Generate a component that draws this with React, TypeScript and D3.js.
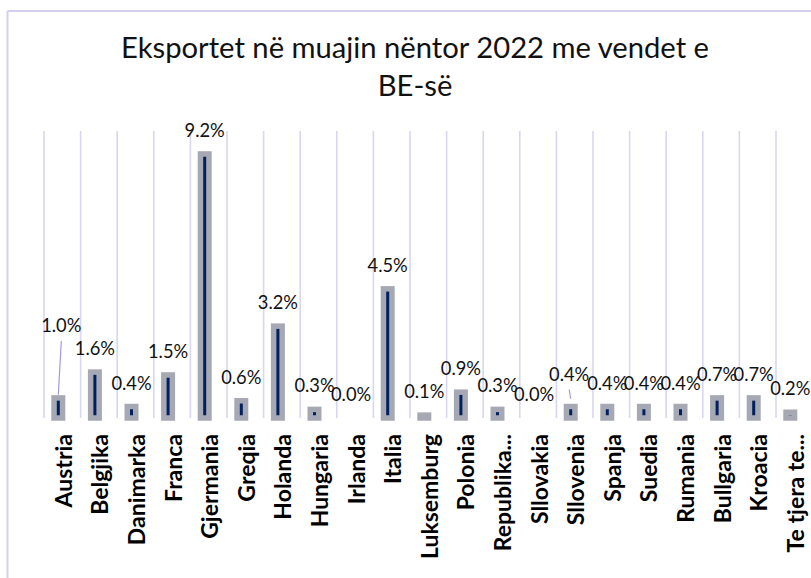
import React from "react";
import * as d3 from "d3";

const categories = [
  "Austria", "Belgjika", "Danimarka", "Franca", "Gjermania", "Greqia", "Holanda",
  "Hungaria", "Irlanda", "Italia", "Luksemburg", "Polonia", "Republika...",
  "Sllovakia", "Sllovenia", "Spanja", "Suedia", "Rumania", "Bullgaria", "Kroacia",
  "Te tjera te...",
];
// bar heights (percent)
const values = [0.7, 1.6, 0.4, 1.5, 9.2, 0.6, 3.2, 0.3, 0.0, 4.5, 0.1, 0.9, 0.3, 0.0, 0.4, 0.4, 0.4, 0.4, 0.7, 0.7, 0.2];
// data label texts as printed on the chart
const dataLabels = ["1.0%", "1.6%", "0.4%", "1.5%", "9.2%", "0.6%", "3.2%", "0.3%", "0.0%", "4.5%", "0.1%", "0.9%", "0.3%", "0.0%", "0.4%", "0.4%", "0.4%", "0.4%", "0.7%", "0.7%", "0.2%"];
const titleLines = ["Eksportet në muajin nëntor 2022 me vendet e", "BE-së"];
const yDomain = [0, 10];

// labels that were dragged away from their bars (with leader lines)
const movedLabels: Record<string, { dx: number; dy: number; endGap: number }> = {
  Austria: { dx: 3, dy: -48.5, endGap: 0.5 },
  Sllovenia: { dx: -1.5, dy: -8.3, endGap: 5 },
};

const W = 811;
const H = 578;
const plotLeft = 44;
const bandStep = 36.6;
const plotTop = 131;
const plotBottom = 418;
const barOffset = -4;
const barInner = 8.5;
const barStroke = 5.5;

export default function App() {
  const x = d3
    .scaleBand<string>()
    .domain(categories)
    .range([plotLeft, plotLeft + bandStep * categories.length])
    .paddingInner(0)
    .paddingOuter(0);
  const y = d3.scaleLinear().domain(yDomain).range([plotBottom, plotTop]);
  const bw = x.bandwidth();
  const gridXs = d3.range(categories.length + 1).map((i) => plotLeft + i * bw);

  const font = "Lato, 'Open Sans', sans-serif";

  return (
    <svg
      width={W}
      height={H}
      style={{ position: "absolute", left: 0, top: 0, display: "block", background: "#fff" }}
    >
      <rect x={0} y={0} width={W} height={H} fill="#ffffff" />
      {/* chart border */}
      <line x1={7.5} y1={11} x2={W + 5} y2={11} stroke="#d3d1ee" strokeWidth={2} />
      <line x1={7.5} y1={11} x2={7.5} y2={H + 5} stroke="#d3d1ee" strokeWidth={2} />

      {/* title */}
      {titleLines.map((t, i) => (
        <text
          key={i}
          x={415}
          y={58 + i * 38}
          textAnchor="middle"
          fontFamily={font}
          fontSize={29.2}
          fill="#111"
        >
          {t}
        </text>
      ))}

      {/* vertical gridlines */}
      {gridXs.map((gx, i) => (
        <line key={i} x1={gx} x2={gx} y1={plotTop} y2={plotBottom} stroke="#d8d6f1" strokeWidth={1.6} />
      ))}

      {/* bars */}
      {categories.map((c, i) => {
        const cx = (x(c) as number) + bw / 2 + barOffset;
        const top = y(values[i]);
        const h = y(0) - top;
        if (h <= 0) return null;
        return (
          <rect
            key={c}
            x={cx - barInner / 2}
            y={top}
            width={barInner}
            height={h}
            fill="#002060"
            stroke="#a6a9b3"
            strokeWidth={barStroke}
          />
        );
      })}

      {/* data labels */}
      {categories.map((c, i) => {
        const cx = (x(c) as number) + bw / 2 + barOffset;
        const top = y(values[i]);
        const m = movedLabels[c];
        const lx = cx + (m ? m.dx : 0);
        const ly = top - 17 + (m ? m.dy : 0);
        return (
          <g key={c}>
            {m && (
              <line
                x1={lx}
                y1={ly + 8.5}
                x2={cx}
                y2={top - barStroke / 2 - m.endGap}
                stroke="#a29cdc"
                strokeWidth={1.2}
              />
            )}
            <text x={lx} y={ly} textAnchor="middle" fontFamily={font} fontSize={18.3} fill="#111">
              {dataLabels[i]}
            </text>
          </g>
        );
      })}

      {/* category labels */}
      {categories.map((c) => {
        const cx = (x(c) as number) + bw / 2 + 9.4;
        return (
          <text
            key={c}
            transform={`translate(${cx},434) rotate(-90)`}
            textAnchor="end"
            fontFamily={font}
            fontWeight="bold"
            fontSize={23}
            fill="#000"
          >
            {c}
          </text>
        );
      })}
    </svg>
  );
}
